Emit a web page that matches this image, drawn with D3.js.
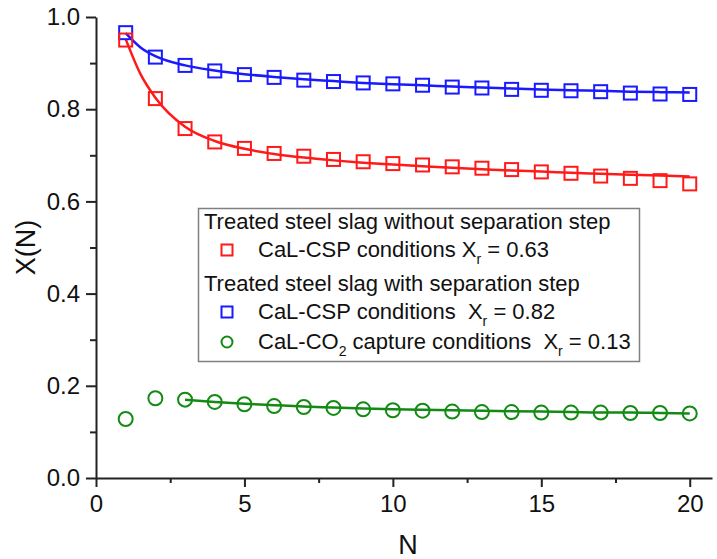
<!DOCTYPE html>
<html lang="en">
<head>
  <meta charset="UTF-8">
  <title>X(N) vs N</title>
  <script src="https://d3js.org/d3.v7.min.js"></script>
  <style>
    body {
      margin: 0;
      padding: 0;
      background: #fff;
    }
    svg {
      font-family: "Liberation Sans", Arial, sans-serif;
    }
    .tick text {
      font-size: 24px;
      fill: #111;
    }
    .legend text {
      font-size: 22px;
      fill: #111;
      white-space: pre;
    }
  </style>
</head>
<body>
  <script>
    // cycle number N
    const cycles = [1, 2, 3, 4, 5, 6, 7, 8, 9, 10, 11, 12, 13, 14, 15, 16, 17, 18, 19, 20];

    // measured X(N)
    const noSepCSP = [0.950, 0.823, 0.758, 0.729, 0.715, 0.704, 0.698, 0.691, 0.686, 0.682,
                      0.679, 0.675, 0.672, 0.669, 0.664, 0.661, 0.655, 0.650, 0.645, 0.638];
    const sepCSP = [0.966, 0.913, 0.895, 0.883, 0.875, 0.869, 0.863, 0.860, 0.857, 0.855,
                    0.852, 0.848, 0.846, 0.843, 0.841, 0.840, 0.838, 0.835, 0.833, 0.832];
    const sepCO2 = [0.128, 0.173, 0.170, 0.165, 0.160, 0.156, 0.154, 0.152, 0.149, 0.147,
                    0.146, 0.144, 0.143, 0.143, 0.142, 0.142, 0.142, 0.141, 0.141, 0.140];

    // fitted curves
    const fitN = [1, 1.5, 2, 3, 4, 5, 6, 7, 8, 9, 10, 11, 12, 13, 14, 15, 16, 17, 18, 19, 20];
    const fitNoSepCSP = [0.952, 0.876, 0.825, 0.762, 0.731, 0.714, 0.703, 0.695, 0.689, 0.684, 0.680,
                         0.676, 0.673, 0.670, 0.667, 0.665, 0.662, 0.660, 0.658, 0.656, 0.654];
    const fitSepCSP = [0.965, 0.934, 0.915, 0.895, 0.884, 0.876, 0.870, 0.865, 0.861, 0.857, 0.854,
                       0.852, 0.849, 0.847, 0.845, 0.843, 0.841, 0.840, 0.838, 0.837, 0.836];
    const fitCO2N = [3, 4, 5, 6, 7, 8, 9, 10, 11, 12, 13, 14, 15, 16, 17, 18, 19, 20];
    const fitSepCO2 = [0.170, 0.165, 0.161, 0.158, 0.155, 0.153, 0.151, 0.149, 0.148, 0.147,
                       0.146, 0.145, 0.144, 0.143, 0.142, 0.142, 0.141, 0.140];

    const xTicks = [0, 5, 10, 15, 20];
    const xMinor = [2.5, 7.5, 12.5, 17.5];
    const yTicks = [0.0, 0.2, 0.4, 0.6, 0.8, 1.0];
    const yMinor = [0.1, 0.3, 0.5, 0.7, 0.9];

    const width = 717;
    const height = 559;

    const red = "#ff1a1a", blue = "#1a1aff", green = "#138a13";

    const svg = d3.select("body").append("svg")
      .attr("width", width)
      .attr("height", height);

    const x = d3.scaleLinear().domain([0, 20.75]).range([96, 712]);
    const y = d3.scaleLinear().domain([0, 1]).range([478, 17]);

    // minor ticks
    svg.append("g")
      .attr("transform", `translate(0,${y(0)})`)
      .call(d3.axisBottom(x).tickValues(xMinor).tickSize(5).tickFormat(""))
      .call(g => g.select(".domain").remove())
      .selectAll("line").attr("stroke", "#222").attr("stroke-width", 2);
    svg.append("g")
      .attr("transform", `translate(${x(0)},0)`)
      .call(d3.axisLeft(y).tickValues(yMinor).tickSize(6).tickFormat(""))
      .call(g => g.select(".domain").remove())
      .selectAll("line").attr("stroke", "#222").attr("stroke-width", 2);

    // major axes
    const xAxis = svg.append("g")
      .attr("transform", `translate(0,${y(0)})`)
      .call(d3.axisBottom(x).tickValues(xTicks).tickSize(9).tickSizeOuter(0).tickPadding(8).tickFormat(d3.format("d")));
    const yAxis = svg.append("g")
      .attr("transform", `translate(${x(0)},0)`)
      .call(d3.axisLeft(y).tickValues(yTicks).tickSize(10).tickSizeOuter(0).tickPadding(6).tickFormat(d3.format(".1f")));
    [xAxis, yAxis].forEach(a => {
      a.select(".domain").attr("stroke", "#222").attr("stroke-width", 2);
      a.selectAll(".tick line").attr("stroke", "#222").attr("stroke-width", 2);
      a.selectAll(".tick text").attr("font-family", null).attr("font-size", null);
    });

    // axis titles
    svg.append("text")
      .attr("x", (x.range()[0] + x.range()[1]) / 2 + 4)
      .attr("y", 554)
      .attr("text-anchor", "middle")
      .attr("font-size", 27)
      .attr("fill", "#111")
      .text("N");
    svg.append("text")
      .attr("transform", `translate(35,${(y(0) + y(1)) / 2}) rotate(-90)`)
      .attr("text-anchor", "middle")
      .attr("font-size", 27)
      .attr("fill", "#111")
      .text("X(N)");

    // fit lines
    const line = d3.line()
      .x(d => x(d[0]))
      .y(d => y(d[1]))
      .curve(d3.curveMonotoneX);
    const fits = [
      { n: fitN, v: fitSepCSP, color: blue },
      { n: fitN, v: fitNoSepCSP, color: red },
      { n: fitCO2N, v: fitSepCO2, color: green }
    ];
    svg.append("g")
      .selectAll("path")
      .data(fits)
      .join("path")
      .attr("d", d => line(d.n.map((n, i) => [n, d.v[i]])))
      .attr("fill", "none")
      .attr("stroke", d => d.color)
      .attr("stroke-width", 2.5);

    // markers
    const sq = 13;
    const squareSeries = [
      { v: sepCSP, color: blue },
      { v: noSepCSP, color: red }
    ];
    squareSeries.forEach(s => {
      svg.append("g")
        .selectAll("rect")
        .data(cycles.map((n, i) => [n, s.v[i]]))
        .join("rect")
        .attr("x", d => x(d[0]) - sq / 2)
        .attr("y", d => y(d[1]) - sq / 2)
        .attr("width", sq)
        .attr("height", sq)
        .attr("fill", "none")
        .attr("stroke", s.color)
        .attr("stroke-width", 2);
    });
    svg.append("g")
      .selectAll("circle")
      .data(cycles.map((n, i) => [n, sepCO2[i]]))
      .join("circle")
      .attr("cx", d => x(d[0]))
      .attr("cy", d => y(d[1]))
      .attr("r", 7)
      .attr("fill", "none")
      .attr("stroke", green)
      .attr("stroke-width", 2);

    // legend
    const legend = svg.append("g").attr("class", "legend");
    legend.append("rect")
      .attr("x", 198.5).attr("y", 208.5)
      .attr("width", 441).attr("height", 153)
      .attr("fill", "#fff")
      .attr("stroke", "#808080")
      .attr("stroke-width", 1.5);

    const header = (txt, yb) => legend.append("text")
      .attr("x", 204).attr("y", yb).text(txt);
    const entry = (parts, yb) => {
      const t = legend.append("text").attr("x", 258).attr("y", yb);
      parts.forEach(p => {
        const ts = t.append("tspan").text(p.t);
        if (p.sub) ts.attr("font-size", 14).attr("dy", 7);
        if (p.up) ts.attr("dy", -7);
      });
    };

    header("Treated steel slag without separation step", 229);
    entry([{ t: "CaL-CSP conditions X" }, { t: "r", sub: true }, { t: " = 0.63", up: true }], 257);
    header("Treated steel slag with separation step", 291);
    entry([{ t: "CaL-CSP conditions  X" }, { t: "r", sub: true }, { t: " = 0.82", up: true }], 319);
    entry([{ t: "CaL-CO" }, { t: "2", sub: true }, { t: " capture conditions  X", up: true },
           { t: "r", sub: true }, { t: " = 0.13", up: true }], 349);

    const lx = 227;
    legend.append("rect")
      .attr("x", lx - 5.5).attr("y", 250 - 5.5).attr("width", 11).attr("height", 11)
      .attr("fill", "none").attr("stroke", red).attr("stroke-width", 2);
    legend.append("rect")
      .attr("x", lx - 5.5).attr("y", 312 - 5.5).attr("width", 11).attr("height", 11)
      .attr("fill", "none").attr("stroke", blue).attr("stroke-width", 2);
    legend.append("circle")
      .attr("cx", lx).attr("cy", 342).attr("r", 5.5)
      .attr("fill", "none").attr("stroke", green).attr("stroke-width", 2);
  </script>
</body>
</html>
